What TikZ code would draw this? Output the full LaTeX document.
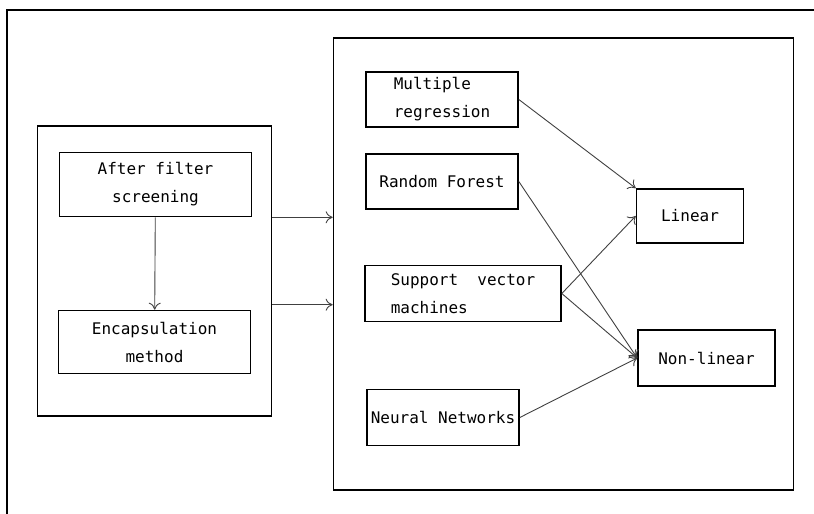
\documentclass[tikz,border=0pt]{standalone}
\usepackage{fontspec}
\setmonofont{DejaVu Sans Mono}
\usetikzlibrary{arrows.meta}

\tikzstyle{box} = [draw, line width=1.6pt, rectangle, inner sep=0pt, font=\ttfamily\fontsize{16}{28}\selectfont]
\tikzstyle{frame} = [draw, line width=1.6pt, rectangle, inner sep=0pt]

\begin{document}
\begin{tikzpicture}[x=1pt,y=-1pt,
		arr/.style = {->, >={To[length=7pt,width=12pt]}, line width=0.9pt, black!75},
		method/.style = {box, align=left, minimum width=152pt, minimum height=55pt}]
		\useasboundingbox (0,0) rectangle (814,514);
		% outer frame, cut off at the right and bottom
		\draw [line width=1.6pt] (7,514) -- (7,10) -- (814,10);
		% left part
		\node (lb) [frame, minimum width=234pt, minimum height=290pt] at (154.5,271) {};
		\node (afs) [box, align=center, minimum width=192pt, minimum height=64pt] at (155.5,184.5) {After filter\\screening};
		\node (enc) [box, align=center, minimum width=192pt, minimum height=63pt] at (154.5,342) {Encapsulation\\method};
		% right part
		\node (rb) [frame, minimum width=460pt, minimum height=452pt] at (563.5,264) {};
		\node (mr) [method] at (442,99.5) {Multiple\\regression};
		\node (rf) [method] at (442,181.5) {Random Forest};
		\node (svm) [method, minimum width=196pt, minimum height=56pt] at (463,293.5) {Support~~vector\\machines};
		\node (nn) [method, minimum height=56pt] at (443,417.5) {Neural Networks};
		\node (lin) [box, minimum width=107pt, minimum height=54pt] at (690,216) {Linear};
		\node (nl) [box, minimum width=137pt, minimum height=56pt] at (706.5,358) {Non-linear};
		\draw [arr] (afs) -- (enc);
		\draw [arr] (afs.south -| lb.east) -- (afs.south -| rb.west);
		\draw [arr] ([yshift=5pt]enc.north -| lb.east) -- ([yshift=5pt]enc.north -| rb.west);
		\draw [arr] (mr.east) -- (lin.north west);
		\draw [arr] (rf.east) -- (nl.west);
		\draw [arr] (svm.east) -- (lin.west);
		\draw [arr] (svm.east) -- (nl.west);
		\draw [arr] (nn.east) -- (nl.west);
\end{tikzpicture}
\end{document}
